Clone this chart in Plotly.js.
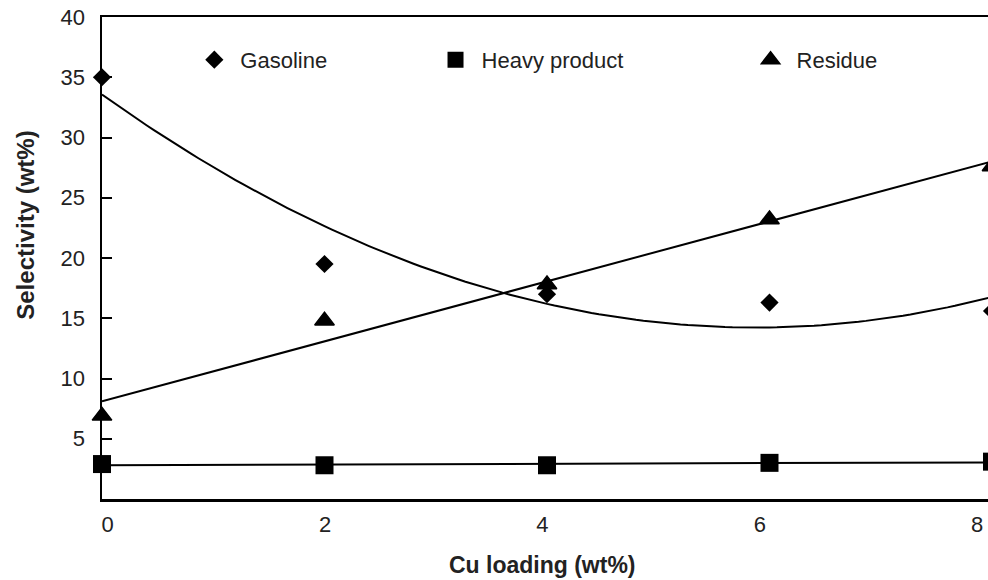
<!DOCTYPE html>
<html>
<head>
<meta charset="utf-8">
<script src="https://cdn.plot.ly/plotly-3.0.1.min.js"></script>
<style>
html, body { margin: 0; padding: 0; overflow: hidden; background: #fff; }
#chart { width: 1000px; height: 580px; }
</style>
</head>
<body>
<div id="chart"></div>
<script>
// ---- data ----
var cuLoading = [0, 2, 4, 6, 8];
var gasoline = [35.0, 19.5, 17.0, 16.3, 15.6];
var heavyProduct = [2.9, 2.8, 2.8, 3.0, 3.1];
var residue = [6.9, 14.8, 17.8, 23.2, 27.6];
var xTickLabels = ['0', '2', '4', '6', '8'];
var yTickValues = [5, 10, 15, 20, 25, 30, 35, 40];

// ---- least-squares trend lines (as in the original spreadsheet chart) ----
function polyFit(xs, ys, order) {
  var n = order + 1, A = [], b = [];
  for (var i = 0; i < n; i++) {
    A.push([]);
    for (var j = 0; j < n; j++) {
      var s = 0;
      for (var k = 0; k < xs.length; k++) s += Math.pow(xs[k], i + j);
      A[i].push(s);
    }
    var t = 0;
    for (var k2 = 0; k2 < xs.length; k2++) t += ys[k2] * Math.pow(xs[k2], i);
    b.push(t);
  }
  for (var c = 0; c < n; c++) {
    var p = c;
    for (var r = c + 1; r < n; r++) if (Math.abs(A[r][c]) > Math.abs(A[p][c])) p = r;
    var tmp = A[c]; A[c] = A[p]; A[p] = tmp;
    var tb = b[c]; b[c] = b[p]; b[p] = tb;
    for (var r2 = c + 1; r2 < n; r2++) {
      var f = A[r2][c] / A[c][c];
      for (var cc = c; cc < n; cc++) A[r2][cc] -= f * A[c][cc];
      b[r2] -= f * b[c];
    }
  }
  var coef = new Array(n);
  for (var i2 = n - 1; i2 >= 0; i2--) {
    var s2 = b[i2];
    for (var j2 = i2 + 1; j2 < n; j2++) s2 -= A[i2][j2] * coef[j2];
    coef[i2] = s2 / A[i2][i2];
  }
  return coef;
}
function trend(xs, ys, order) {
  var coef = polyFit(xs, ys, order);
  var x0 = xs[0], x1 = xs[xs.length - 1], steps = 120;
  var tx = [], ty = [];
  for (var i = 0; i <= steps; i++) {
    var x = x0 + (x1 - x0) * i / steps, y = 0;
    for (var k = 0; k < coef.length; k++) y += coef[k] * Math.pow(x, k);
    tx.push(x); ty.push(y);
  }
  return {x: tx, y: ty};
}
var gasTrend = trend(cuLoading, gasoline, 2);
var heavyTrend = trend(cuLoading, heavyProduct, 1);
var resTrend = trend(cuLoading, residue, 1);

var lineStyle = {color: '#000', width: 2};
var traces = [
  {x: gasTrend.x, y: gasTrend.y, mode: 'lines', line: lineStyle, showlegend: false, hoverinfo: 'skip'},
  {x: heavyTrend.x, y: heavyTrend.y, mode: 'lines', line: lineStyle, showlegend: false, hoverinfo: 'skip'},
  {x: resTrend.x, y: resTrend.y, mode: 'lines', line: lineStyle, showlegend: false, hoverinfo: 'skip'},
  {x: cuLoading, y: gasoline, name: 'Gasoline', mode: 'markers', legend: 'legend',
   marker: {symbol: 'diamond', size: 14, color: '#000'}, cliponaxis: false},
  {x: cuLoading, y: heavyProduct, name: 'Heavy product', mode: 'markers', legend: 'legend2',
   marker: {symbol: 'square', size: 18, color: '#000'}, cliponaxis: false},
  {x: cuLoading, y: residue, name: 'Residue', mode: 'markers', legend: 'legend3',
   marker: {symbol: 'triangle-up', size: 17, color: '#000', line: {color: '#000', width: 1.5}}, cliponaxis: false},
  // empty trace so the tick-label axis (x2) gets drawn
  {x: [], y: [], xaxis: 'x2', yaxis: 'y', mode: 'markers', showlegend: false, hoverinfo: 'skip'}
];

var font = 'Liberation Sans, Arial, sans-serif';
var legendBase = {
  orientation: 'h', yanchor: 'middle', xanchor: 'left', y: 0.911,
  bgcolor: 'rgba(0,0,0,0)', borderwidth: 0, itemwidth: 42,
  font: {family: font, size: 22, color: '#222'}, itemsizing: 'trace'
};
function leg(x) { var o = JSON.parse(JSON.stringify(legendBase)); o.x = x; return o; }

var layout = {
  width: 1000, height: 580,
  margin: {l: 102, r: 8, t: 17, b: 81},
  paper_bgcolor: '#fff', plot_bgcolor: '#fff',
  font: {family: font, size: 22, color: '#222'},
  xaxis: {
    range: [0, 8], showgrid: false, zeroline: false,
    showline: true, linecolor: '#000', linewidth: 2.5, mirror: true,
    ticks: '', showticklabels: false
  },
  xaxis2: {
    overlaying: 'x', anchor: 'y', side: 'bottom',
    range: [-0.0515, 8.136], showgrid: false, zeroline: false, showline: false,
    ticks: '', tickmode: 'array', tickvals: cuLoading, ticktext: xTickLabels,
    tickfont: {family: font, size: 22, color: '#222'}, ticklabelstandoff: 10
  },
  yaxis: {
    range: [0, 40], showgrid: false, zeroline: false,
    showline: true, linecolor: '#000', linewidth: 2.5, mirror: true,
    ticks: 'inside', ticklen: 10, tickwidth: 2, tickcolor: '#000',
    tickmode: 'array', tickvals: yTickValues,
    tickfont: {family: font, size: 22, color: '#222'}, ticklabelstandoff: 10
  },
  legend: leg(0.097),
  legend2: leg(0.368),
  legend3: leg(0.722),
  annotations: [
    {text: '<b>Cu loading (wt%)</b>', xref: 'paper', yref: 'paper', x: 0.4955, y: -0.137,
     xanchor: 'center', yanchor: 'middle', showarrow: false,
     font: {family: font, size: 23, color: '#222'}},
    {text: '<b>Selectivity (wt%)</b>', xref: 'paper', yref: 'paper', x: -0.0854, y: 0.569,
     xanchor: 'center', yanchor: 'middle', showarrow: false, textangle: -90,
     font: {family: font, size: 24, color: '#222'}}
  ]
};

Plotly.newPlot('chart', traces, layout, {displayModeBar: false, staticPlot: true});
</script>
</body>
</html>
